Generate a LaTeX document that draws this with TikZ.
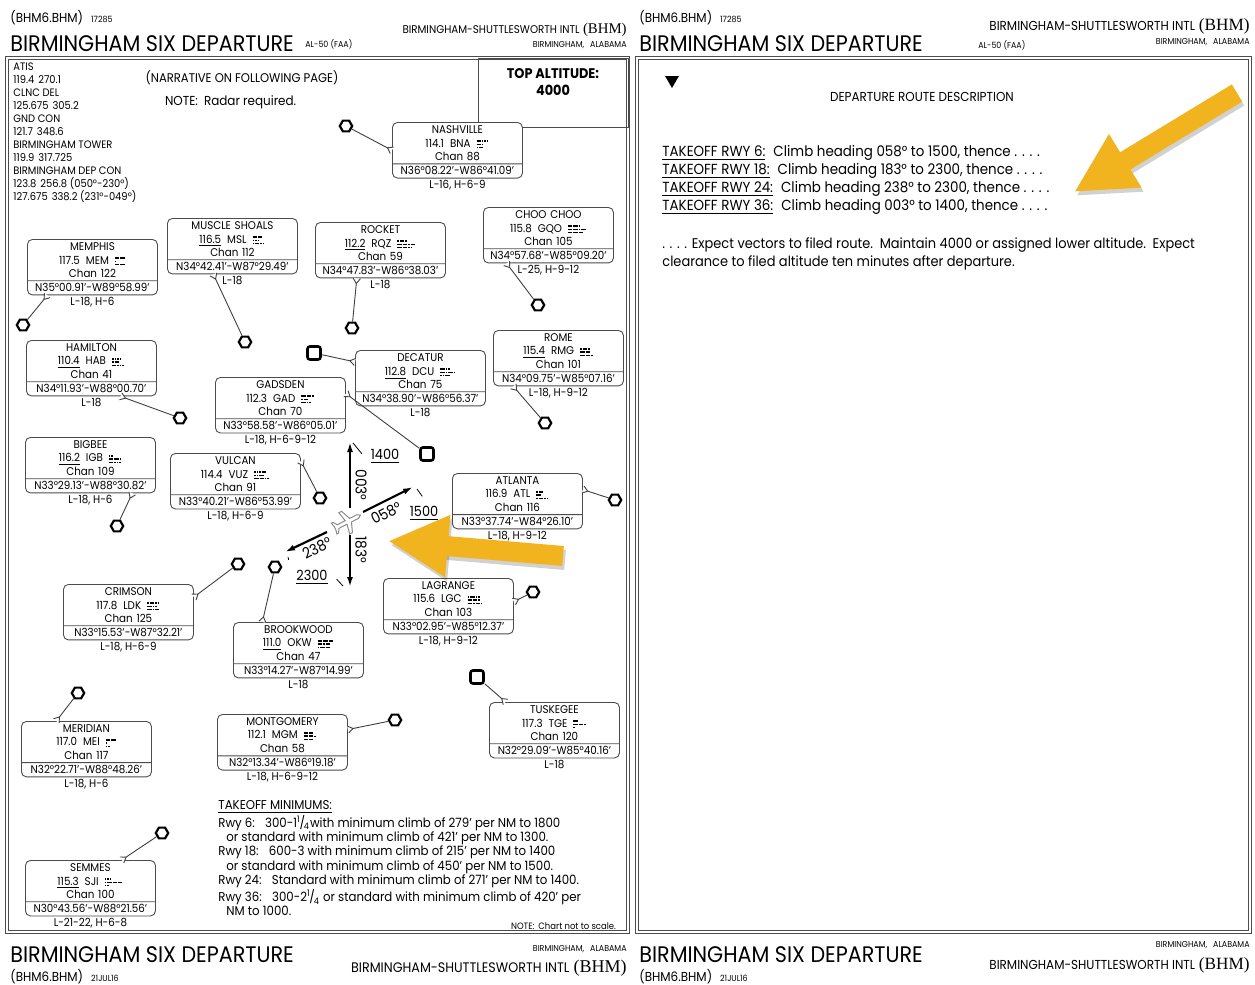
\documentclass[tikz,border=0pt]{standalone}
\usepackage{fontspec}
\setmainfont{Poppins}[FakeStretch=0.92]
\newfontfamily\serifid{Liberation Serif}
\usetikzlibrary{shapes.geometric,shapes.multipart,positioning,calc,arrows.meta}
\tikzset{>={Latex[length=5pt,width=3pt]}}
\definecolor{hintyellow}{HTML}{F1B41E}

\newcommand\boxfont{\fontsize{5.6}{6.9}\selectfont}
\newcommand\freqfont{\fontsize{5.4}{6.5}\selectfont}
\newcommand\minfont{\fontsize{6.4}{7.1}\selectfont}
\newcommand\routefont{\fontsize{7.3}{9}\selectfont}
\newcommand\titlefont{\fontsize{11.25}{13}\selectfont}
\newcommand\codefont{\fontsize{6.5}{8}\selectfont}
\newcommand\tinyfont{\fontsize{4.3}{5}\selectfont}
\newcommand\airportfont[1]{\fontsize{#1}{8}\selectfont}

% morse rows: - is a dash, . is a dot
\def\mrs#1{\mrsstep#1\relax}
\def\mrsstep#1{\ifx\relax#1\else\ifx-#1\rule{2.2pt}{.75pt}\else\rule{.75pt}{.75pt}\fi\kern.5pt\expandafter\mrsstep\fi}
\newcommand\morse[3]{\raisebox{-.6pt}{\vbox{\offinterlineskip\hbox{\mrs{#1}}\kern.85pt\hbox{\mrs{#2}}\kern.85pt\hbox{\mrs{#3}}}}}
\newcommand\frc[2]{\textsuperscript{#1}\kern-.1em/\kern-.1em\textsubscript{#2}}
\newcommand\aptname[2]{{\airportfont{#1}BIRMINGHAM-SHUTTLESWORTH INTL\hspace{.3em}{\serifid\fontsize{#2}{9}\selectfont (BHM)}}}

\tikzset{
  navbox/.style={rectangle split, rectangle split parts=2, draw=black!70, line width=.45pt,
    rounded corners=2.5pt, fill=white, text width=62pt, align=center,
    inner xsep=1.5pt, inner ysep=1.2pt, font=\boxfont, anchor=north west},
  navref/.style={font=\boxfont, inner sep=.5pt},
  vortac/.style={regular polygon, regular polygon sides=6, draw, line width=1.1pt,
    fill=white, minimum size=6.2pt, inner sep=0pt},
  vordme/.style={rectangle, draw, line width=1.3pt, rounded corners=1.2pt, fill=white,
    minimum size=6.5pt, inner sep=0pt},
  leaderline/.style={black!75, line width=.45pt},
  frame/.style={draw=black!70, line width=.5pt, double=white, double distance=.6pt},
  course/.style={line width=1.1pt},
  tick/.style={line width=.4pt, shorten >=1.5pt},
  hintarrow/.style={line width=10pt, hintyellow, -{Triangle[width=29pt,length=30pt]}},
  hintshadow/.style={line width=10pt, black, opacity=.18, -{Triangle[width=29pt,length=30pt]}},
}

\newcommand\navaid[9]{%
  \node[navbox] (#1) at (#2) {#3\\#4\hspace{3pt}#5\hspace{3pt}#6\\Chan #7\nodepart{two}#8};
  \node[navref, below=.4pt of #1] (#1ref) {#9};}
\newcommand\leader[2]{%
  \fill[white] ($(#1)!1.8pt!90:(#2)$) -- ($(#1)!2.6pt!(#2)$) -- ($(#1)!1.8pt!-90:(#2)$) -- cycle;
  \draw[leaderline] ($(#1)!1.8pt!90:(#2)$) -- ($(#1)!2.6pt!(#2)$) -- ($(#1)!1.8pt!-90:(#2)$);
  \draw[leaderline] ($(#1)!2.6pt!(#2)$) -- (#2);}

\begin{document}
\begin{tikzpicture}[x=.5pt, y=-.5pt]
\fill[white] (0,0) rectangle (1255,985);
\useasboundingbox (0,0) rectangle (1255,985);

% page frames
\draw[frame] (7,58) rectangle (628,932);
\draw[frame] (637,58) rectangle (1250,932);
\draw[black!70, line width=.5pt] (478,58) rectangle (628,127);

% headers and footers
\node[anchor=base west, font=\codefont, inner sep=0pt] (codeL) at (10,23) {(BHM6.BHM)\hspace{4pt}{\tinyfont 17285}};
\node[anchor=base west, font=\titlefont, inner sep=0pt] (titleL) at (10,52) {BIRMINGHAM SIX DEPARTURE};
\node[anchor=base west, font=\tinyfont, inner sep=0pt] (faaL) at (305,47) {AL-50 (FAA)};
\node[anchor=base east, inner sep=0pt] (aptL) at (627,33) {\aptname{5.6}{7.4}};
\node[anchor=base east, font=\tinyfont, inner sep=0pt] (cityL) at (627,47) {BIRMINGHAM,\hspace{3pt}ALABAMA};

\node[anchor=base west, font=\codefont, inner sep=0pt] (codeR) at (639,23) {(BHM6.BHM)\hspace{4pt}{\tinyfont 17285}};
\node[anchor=base west, font=\titlefont, inner sep=0pt] (titleR) at (639,52) {BIRMINGHAM SIX DEPARTURE};
\node[anchor=base west, font=\tinyfont, inner sep=0pt] (faaR) at (978,48) {AL-50 (FAA)};
\node[anchor=base east, inner sep=0pt] (aptR) at (1250,31) {\aptname{6.5}{8.6}};
\node[anchor=base east, font=\tinyfont, inner sep=0pt] (cityR) at (1250,44) {BIRMINGHAM,\hspace{3pt}ALABAMA};

\node[anchor=base west, font=\titlefont, inner sep=0pt] (ftitleL) at (10,962) {BIRMINGHAM SIX DEPARTURE};
\node[anchor=base west, font=\codefont, inner sep=0pt] (fcodeL) at (10,981) {(BHM6.BHM)\hspace{4pt}{\tinyfont 21JUL16}};
\node[anchor=base east, font=\tinyfont, inner sep=0pt] (fcityL) at (627,951) {BIRMINGHAM,\hspace{3pt}ALABAMA};
\node[anchor=base east, inner sep=0pt] (faptL) at (627,972) {\aptname{6.9}{9}};

\node[anchor=base west, font=\titlefont, inner sep=0pt] (ftitleR) at (639,962) {BIRMINGHAM SIX DEPARTURE};
\node[anchor=base west, font=\codefont, inner sep=0pt] (fcodeR) at (639,981) {(BHM6.BHM)\hspace{4pt}{\tinyfont 21JUL16}};
\node[anchor=base east, font=\tinyfont, inner sep=0pt] (fcityR) at (1250,947) {BIRMINGHAM,\hspace{3pt}ALABAMA};
\node[anchor=base east, inner sep=0pt] (faptR) at (1250,969) {\aptname{6.5}{8.6}};

% left page text
\node[anchor=north west, align=left, font=\freqfont, inner sep=0pt] (freqs) at (13,62) {ATIS\\119.4\hspace{2pt}270.1\\CLNC DEL\\125.675\hspace{2pt}305.2\\GND CON\\121.7\hspace{2pt}348.6\\BIRMINGHAM TOWER\\119.9\hspace{2pt}317.725\\BIRMINGHAM DEP CON\\123.8\hspace{2pt}256.8 (050°-230°)\\127.675\hspace{2pt}338.2 (231°-049°)};
\node[font=\fontsize{6.3}{8}\selectfont] (narr) at (242,78) {(NARRATIVE ON FOLLOWING PAGE)};
\node[anchor=west, font=\fontsize{6.5}{8}\selectfont] (radar) at (158,102) {NOTE:\hspace{3pt}Radar required.};
\node[align=center, font=\fontsize{7}{8.5}\selectfont\bfseries] (topalt) at (553,82) {TOP ALTITUDE:\\4000};

\node[anchor=north west, align=left, font=\minfont, inner sep=0pt] (mins) at (218,800) {\underline{TAKEOFF MINIMUMS:}\\
Rwy 6:\hspace{3pt} 300-1\frc{1}{4}with minimum climb of 279' per NM to 1800\\
\hspace*{4pt}or standard with minimum climb of 421' per NM to 1300.\\
Rwy 18:\hspace{3pt} 600-3 with minimum climb of 215' per NM to 1400\\
\hspace*{4pt}or standard with minimum climb of 450' per NM to 1500.\\
Rwy 24:\hspace{3pt} Standard with minimum climb of 271' per NM to 1400.\\
Rwy 36:\hspace{3pt} 300-2\frc{1}{4} or standard with minimum climb of 420' per\\
\hspace*{4pt}NM to 1000.};
\node[anchor=east, font=\fontsize{4.6}{5}\selectfont] (scale) at (623,926) {NOTE:\hspace{2pt}Chart not to scale.};

% navaids
\navaid{nash}{392,122}{NASHVILLE}{114.1}{BNA}{\morse{-...}{-.}{.-}}{88}{N36°08.22'-W86°41.09'}{L-16, H-6-9}
\navaid{rock}{315,222}{ROCKET}{\underline{112.2}}{RQZ}{\morse{.-.}{--.-}{--..}}{59}{N34°47.83'-W86°38.03'}{L-18}
\navaid{choo}{483,207}{CHOO CHOO}{115.8}{GQO}{\morse{--.}{--.-}{---}}{105}{N34°57.68'-W85°09.20'}{L-25, H-9-12}
\navaid{mem}{27,239}{MEMPHIS}{117.5}{MEM}{\morse{--}{.}{--}}{122}{N35°00.91'-W89°58.99'}{L-18, H-6}
\navaid{msl}{167,218}{MUSCLE SHOALS}{\underline{116.5}}{MSL}{\morse{--}{...}{.-..}}{112}{N34°42.41'-W87°29.49'}{L-18}
\navaid{hab}{26,340}{HAMILTON}{\underline{110.4}}{HAB}{\morse{....}{.-}{-...}}{41}{N34°11.93'-W88°00.70'}{L-18}
\navaid{gad}{215,377}{GADSDEN}{112.3}{GAD}{\morse{--.}{.-}{-..}}{70}{N33°58.58'-W86°05.01'}{L-18, H-6-9-12}
\navaid{dcu}{355,350}{DECATUR}{\underline{112.8}}{DCU}{\morse{-..}{-.-.}{..-}}{75}{N34°38.90'-W86°56.37'}{L-18}
\navaid{rmg}{493,330}{ROME}{\underline{115.4}}{RMG}{\morse{.-.}{--}{--.}}{101}{N34°09.75'-W85°07.16'}{L-18, H-9-12}
\navaid{igb}{25,437}{BIGBEE}{\underline{116.2}}{IGB}{\morse{..}{--.}{-...}}{109}{N33°29.13'-W88°30.82'}{L-18, H-6}
\navaid{vuz}{170,453}{VULCAN}{114.4}{VUZ}{\morse{...-}{..-}{--..}}{91}{N33°40.21'-W86°53.99'}{L-18, H-6-9}
\navaid{atl}{452,473}{ATLANTA}{116.9}{ATL}{\morse{.-}{-}{.-..}}{116}{N33°37.74'-W84°26.10'}{L-18, H-9-12}
\navaid{ldk}{63,584}{CRIMSON}{117.8}{LDK}{\morse{.-..}{-..}{-.-}}{125}{N33°15.53'-W87°32.21'}{L-18, H-6-9}
\navaid{okw}{233,622}{BROOKWOOD}{\underline{111.0}}{OKW}{\morse{---}{-.-}{.--}}{47}{N33°14.27'-W87°14.99'}{L-18}
\navaid{lgc}{383,578}{LAGRANGE}{115.6}{LGC}{\morse{.-..}{--.}{-.-.}}{103}{N33°02.95'-W85°12.37'}{L-18, H-9-12}
\navaid{tge}{489,702}{TUSKEGEE}{117.3}{TGE}{\morse{-}{--.}{.}}{120}{N32°29.09'-W85°40.16'}{L-18}
\navaid{mei}{21,721}{MERIDIAN}{117.0}{MEI}{\morse{--}{.}{..}}{117}{N32°22.71'-W88°48.26'}{L-18, H-6}
\navaid{mgm}{217,714}{MONTGOMERY}{112.1}{MGM}{\morse{--}{--.}{--}}{58}{N32°13.34'-W86°19.18'}{L-18, H-6-9-12}
\navaid{sji}{25,860}{SEMMES}{\underline{115.3}}{SJI}{\morse{...}{.---}{..}}{100}{N30°43.56'-W88°21.56'}{L-21-22, H-6-8}

% station symbols
\node[vortac] (nashsym) at (346,126) {};
\node[vortac] (rocksym) at (352,328) {};
\node[vortac] (choosym) at (538,305) {};
\node[vortac] (memsym) at (23,325) {};
\node[vortac] (mslsym) at (245,342) {};
\node[vortac] (habsym) at (180,418) {};
\node[vordme] (gadsym) at (427,454) {};
\node[vordme] (dcusym) at (314,353) {};
\node[vortac] (rmgsym) at (545,423) {};
\node[vortac] (igbsym) at (117,526) {};
\node[vortac] (vuzsym) at (320,498) {};
\node[vortac] (atlsym) at (615,500) {};
\node[vortac] (ldksym) at (238,564) {};
\node[vortac] (okwsym) at (275,567) {};
\node[vortac] (lgcsym) at (533,592) {};
\node[vordme] (tgesym) at (477,677) {};
\node[vortac] (meisym) at (78,693) {};
\node[vortac] (mgmsym) at (395,720) {};
\node[vortac] (sjisym) at (162,833) {};

\leader{nash.west}{nashsym}
\leader{rock.-130}{rocksym}
\leader{choo.-146}{choosym}
\leader{mem.-148}{memsym}
\leader{msl.-124}{mslsym}
\leader{hab.-44}{habsym}
\leader{gad.10}{gadsym}
\leader{dcu.166}{dcusym}
\leader{rmg.-148}{rmgsym}
\leader{igb.-34}{igbsym}
\leader{vuz.17}{vuzsym}
\leader{atl.10}{atlsym}
\leader{ldk.13}{ldksym}
\leader{okw.142}{okwsym}
\leader{lgc.4}{lgcsym}
\leader{tge.150}{tgesym}
\leader{mei.137}{meisym}
\leader{mgm.11}{mgmsym}
\leader{sji.42}{sjisym}

% departure courses
\coordinate (plane) at (347,522);
\coordinate (s003) at (350,508); \coordinate (e003) at (350,442);
\coordinate (s058) at (363,512); \coordinate (e058) at (413,487);
\coordinate (s238) at (327,532); \coordinate (e238) at (285,552);
\coordinate (s183) at (350,535); \coordinate (e183) at (350,587);
\begin{scope}[shift={(plane)}, rotate=27]
  \draw[black!45, line width=.5pt, fill=white] (15,0) -- (12,-2) -- (4,-2) -- (0,-12) -- (-3,-12) -- (-1,-2) -- (-10,-2)
    -- (-12.5,-6) -- (-14.5,-6) -- (-13.5,-2) -- (-13.5,2) -- (-14.5,6) -- (-12.5,6) -- (-10,2) -- (-1,2)
    -- (-3,12) -- (0,12) -- (4,2) -- (12,2) -- cycle;
\end{scope}
\draw[course,->] (s003) -- (e003);
\draw[course,->] (s058) -- (e058);
\draw[course,->] (s238) -- (e238);
\draw[course,->] (s183) -- (e183);
\node[font=\fontsize{7.5}{9}\selectfont, rotate=-90] (l003) at (361,485) {003°};
\node[font=\fontsize{7.5}{9}\selectfont, rotate=27] (l058) at (386,513) {058°};
\node[font=\fontsize{7.5}{9}\selectfont, rotate=27] (l238) at (317,548) {238°};
\node[font=\fontsize{7.5}{9}\selectfont, rotate=-90] (l183) at (361,550) {183°};
\node[font=\fontsize{7}{8}\selectfont] (a1400) at (385,456) {\underline{1400}};
\node[font=\fontsize{7}{8}\selectfont] (a1500) at (424,513) {\underline{1500}};
\node[font=\fontsize{7}{8}\selectfont] (a2300) at (312,577) {\underline{2300}};
\coordinate (k1400) at (353,443);
\coordinate (k1500) at (417,489);
\coordinate (k2300a) at (288,557);
\coordinate (k2300b) at (343,586);
\draw[tick] (k1400) -- (a1400.west);
\draw[tick] (k1500) -- (a1500.north);
\draw[tick] (k2300a) -- (a2300.north west);
\draw[tick] (k2300b) -- (a2300.east);

% right page text
\node[regular polygon, regular polygon sides=3, shape border rotate=180, fill, minimum size=8pt, inner sep=0pt] (mark) at (672,80) {};
\node[font=\fontsize{6.5}{8}\selectfont] (routehead) at (922,97) {DEPARTURE ROUTE DESCRIPTION};
\node[anchor=west, font=\routefont, inner sep=0pt] (rwy6) at (662,153) {\underline{TAKEOFF RWY 6:}\hspace{4pt}Climb heading 058° to 1500, thence . . . .};
\node[anchor=west, font=\routefont, inner sep=0pt] (rwy18) at (662,171) {\underline{TAKEOFF RWY 18:}\hspace{4pt}Climb heading 183° to 2300, thence . . . .};
\node[anchor=west, font=\routefont, inner sep=0pt] (rwy24) at (662,189) {\underline{TAKEOFF RWY 24:}\hspace{4pt}Climb heading 238° to 2300, thence . . . .};
\node[anchor=west, font=\routefont, inner sep=0pt] (rwy36) at (662,207) {\underline{TAKEOFF RWY 36:}\hspace{4pt}Climb heading 003° to 1400, thence . . . .};
\node[anchor=north west, align=left, font=\fontsize{7.05}{9}\selectfont, inner sep=0pt] (expect) at (662,237) {. . . . Expect vectors to filed route.\hspace{1pt} Maintain 4000 or assigned lower altitude.\hspace{1pt} Expect\\clearance to filed altitude ten minutes after departure.};

% highlight arrows
\coordinate (ytailL) at (563,556); \coordinate (ytipL) at (388,541);
\coordinate (ytailR) at (1237,93); \coordinate (ytipR) at (1074,192);
\draw[hintshadow] ([shift={(2,4)}]ytailL) -- ([shift={(2,4)}]ytipL);
\draw[hintarrow] (ytailL) -- (ytipL);
\draw[hintshadow] ([shift={(2,4)}]ytailR) -- ([shift={(2,4)}]ytipR);
\draw[hintarrow] (ytailR) -- (ytipR);
\end{tikzpicture}
\end{document}
